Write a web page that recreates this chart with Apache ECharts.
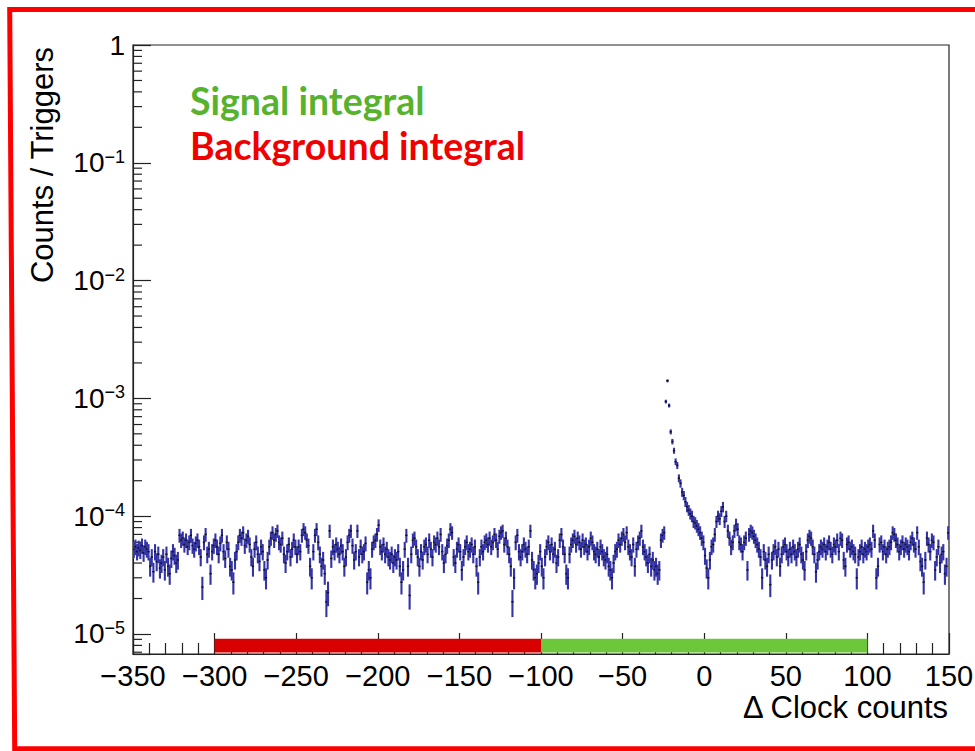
<!DOCTYPE html>
<html>
<head>
<meta charset="utf-8">
<script src="https://cdn.jsdelivr.net/npm/echarts@6/dist/echarts.min.js"></script>
<style>html,body{margin:0;padding:0;background:#fff}#c{width:975px;height:751px}</style>
</head>
<body>
<div id="c"></div>
<script>
// ---------------- data ----------------
const binLow = -350;          // histogram low edge (clock counts)
const binWidth = 1;           // one clock count per bin
const triggers = 800000;      // normalisation (number of triggers)
// raw counts per bin, bins from -350 to 150
const counts = [
  42,44,40,43,41,45,39,44,42,40,
  30,36,27,40,33,38,29,32,36,28,
  38,30,26,35,40,37,32,34,55,50,
  52,46,50,44,48,55,45,42,47,50,
  44,36,20,48,56,38,42,26,40,45,
  50,44,38,47,55,40,35,48,42,30,
  28,22,34,40,48,55,52,58,45,50,
  54,46,36,30,42,48,38,33,44,40,
  28,24,34,44,52,58,50,56,60,48,
  46,52,38,32,40,46,36,42,50,44,
  38,44,40,55,62,58,50,45,30,24,
  40,55,62,48,38,30,34,26,15,18,
  60,35,44,40,46,42,38,45,40,30,
  36,48,55,60,45,34,40,60,36,44,
  38,40,47,22,28,24,42,48,50,56,
  67,44,40,46,38,42,36,34,38,32,
  36,34,40,30,22,28,42,55,30,17,
  38,50,52,44,36,30,40,34,44,46,
  38,50,42,36,48,46,52,44,56,40,
  32,38,45,50,62,58,36,32,42,46,
  40,28,36,44,48,40,42,46,38,44,
  30,22,36,44,40,48,50,46,52,44,
  48,56,50,42,54,58,60,46,52,44,
  38,30,15,24,48,55,40,36,40,46,
  42,38,44,60,34,28,24,26,32,40,
  30,24,36,44,48,40,46,38,42,32,
  36,50,56,44,38,26,24,38,46,50,
  54,46,52,48,42,50,44,46,40,44,
  52,48,40,38,42,36,44,40,36,34,
  38,30,28,24,32,40,42,50,46,52,
  56,48,58,44,40,36,46,30,42,48,
  52,60,44,40,36,32,38,30,34,28,
  30,26,28,50,55,58,752,1128,696,416,
  344,288,232,216,168,152,128,120,106,96,
  90,84,80,72,70,66,62,58,52,48,
  37,29,24,34,44,46,56,72,80,76,
  88,96,72,80,60,52,44,48,60,68,
  62,48,46,40,48,52,28,56,60,58,
  54,50,46,42,36,24,40,34,30,38,
  21,34,40,44,36,42,30,38,44,46,
  40,36,42,38,44,40,36,42,46,38,
  34,28,40,50,54,52,44,38,27,34,
  40,44,42,46,40,44,48,42,38,46,
  44,50,40,52,50,34,30,46,48,42,
  44,40,38,24,36,40,44,38,42,40,
  44,46,42,60,50,24,30,46,48,40,
  44,38,42,44,48,58,56,50,46,40,
  44,48,42,46,44,40,48,52,46,42,
  58,44,33,30,22,34,52,46,40,50,
  48,28,36,44,32,38,40,26,30,58
];
// integration windows
const rangeNames  = ['Background integral', 'Signal integral'];
const rangeFrom   = [-300, -100];
const rangeTo     = [-100, 100];
// axis ticks
const xMin = -350, xMax = 150, xStep = 50;
const yMin = 6.76e-6, yMax = 1;
const yDecades = [-5, -4, -3, -2, -1, 0];
const yMinorMultipliers = [2, 3, 4, 5, 6, 7, 8, 9];

// ---------------- styles ----------------
const rangeColors = ['#d80000', '#6cc83a'];
const textColors  = ['#f00000', '#57b22e'];
const bandLow = 6.95e-6, bandHigh = 9.1e-6;
const errColor = '#3434a6';

// ---------------- build ----------------
const histData = counts.map((c, i) => [binLow + binWidth * (i + 0.5), c / triggers, Math.sqrt(c) / triggers]);
const minorData = [];
for (let k = -6; k < 0; k++) {
  for (const m of yMinorMultipliers) {
    const v = m * Math.pow(10, k);
    if (v > yMin && v < yMax) minorData.push([xMin, v]);
  }
}
const bandData = rangeFrom.map((f, i) => [f, rangeTo[i], i]);

const chart = echarts.init(document.getElementById('c'), null, {renderer: 'svg'});
const font = '"Liberation Sans", Arial, Helvetica, sans-serif';

chart.setOption({
  animation: false,
  backgroundColor: '#fff',
  grid: {left: 133, top: 45, width: 816, height: 609, show: true, borderColor: '#222', borderWidth: 1.2,
         containLabel: false, outerBoundsMode: 'none'},
  xAxis: {
    type: 'value', min: xMin, max: xMax, interval: xStep,
    axisLine: {show: true, onZero: false, lineStyle: {color: '#222', width: 1.2}},
    axisTick: {show: true, inside: true, length: 21, lineStyle: {color: '#222', width: 1.2}},
    minorTick: {show: true, splitNumber: 5, length: 11, lineStyle: {color: '#222', width: 1.2}},
    splitLine: {show: false},
    axisLabel: {show: true, margin: 7, fontFamily: font, fontSize: 29, color: '#000',
      showMinLabel: true, showMaxLabel: true, hideOverlap: false,
      formatter: v => (v < 0 ? '\u2212' + Math.abs(v) : String(v))}
  },
  yAxis: {
    type: 'log', logBase: 10, min: yMin, max: yMax,
    axisLine: {show: true, onZero: false, lineStyle: {color: '#222', width: 1.2}},
    axisTick: {show: true, inside: true, length: 18, lineStyle: {color: '#222', width: 1.2}},
    splitLine: {show: false},
    axisLabel: {show: true, margin: 8, color: '#000', hideOverlap: false,
      showMinLabel: true, showMaxLabel: true,
      formatter: v => {
        const l = Math.log10(v), e = Math.round(l);
        if (Math.abs(l - e) > 1e-6 || yDecades.indexOf(e) < 0) return '';
        if (e === 0) return '{b|1}';
        return '{b|10}{s|\u2212' + (-e) + '}';
      },
      rich: {
        b: {fontFamily: font, fontSize: 28, lineHeight: 30, color: '#000'},
        s: {fontFamily: font, fontSize: 18, lineHeight: 14, verticalAlign: 'top', color: '#000'}
      }
    }
  },
  graphic: [
    {type: 'polyline', silent: true, z: 100,
     shape: {points: [[1010, 9.5], [9.7, 9.5], [14.7, 748.8], [1010, 748.8]]},
     style: {stroke: '#ff0000', lineWidth: 5, fill: null}},
    {type: 'text', x: 190, y: 100, z: 50,
     style: {text: rangeNames[1], fill: textColors[1], font: 'bold 37.5px Lato, "Open Sans", sans-serif', verticalAlign: 'middle', align: 'left'}},
    {type: 'text', x: 190, y: 145, z: 50,
     style: {text: rangeNames[0], fill: textColors[0], font: 'bold 37.5px Lato, "Open Sans", sans-serif', verticalAlign: 'middle', align: 'left'}},
    {type: 'text', x: 948, y: 707, z: 50,
     style: {text: '\u0394 Clock counts', fill: '#000', font: '31px ' + font, verticalAlign: 'middle', align: 'right'}},
    {type: 'text', x: 42, y: 165, rotation: Math.PI / 2, z: 50,
     style: {text: 'Counts / Triggers', fill: '#000', font: '31px ' + font, verticalAlign: 'middle', align: 'center'}}
  ],
  series: [
    {
      type: 'custom', name: 'integral ranges', data: bandData, clip: false, z: 3,
      encode: {x: [0, 1]},
      renderItem: (params, api) => {
        const p1 = api.coord([api.value(0), bandHigh]);
        const p2 = api.coord([api.value(1), bandLow]);
        return {type: 'rect', shape: {x: p1[0], y: p1[1], width: p2[0] - p1[0], height: p2[1] - p1[1]},
                style: {fill: rangeColors[api.value(2)]}};
      }
    },
    {
      type: 'custom', name: 'minor ticks', data: minorData, clip: false, z: 4, silent: true,
      encode: {x: 0, y: 1},
      renderItem: (params, api) => {
        const p = api.coord([api.value(0), api.value(1)]);
        return {type: 'line', shape: {x1: p[0], y1: p[1], x2: p[0] + 9, y2: p[1]},
                style: {stroke: '#222', lineWidth: 1.2}};
      }
    },
    {
      type: 'custom', name: 'Counts / Triggers', data: histData, clip: true, z: 5,
      encode: {x: 0, y: 1},
      renderItem: (params, api) => {
        const x = api.value(0), y = api.value(1), e = api.value(2);
        const c = api.coord([x, y]);
        const t = api.coord([x, y + e]);
        const b = api.coord([x, y - e]);
        const l = api.coord([x - binWidth / 2, y]);
        const r = api.coord([x + binWidth / 2, y]);
        return {type: 'group', children: [
          {type: 'line', shape: {x1: c[0], y1: t[1], x2: c[0], y2: b[1]}, style: {stroke: errColor, lineWidth: 2.1}},
          {type: 'line', shape: {x1: l[0] - 0.3, y1: c[1], x2: r[0] + 0.3, y2: c[1]}, style: {stroke: '#111', lineWidth: 1.5}}
        ]};
      }
    }
  ]
});
</script>
</body>
</html>
